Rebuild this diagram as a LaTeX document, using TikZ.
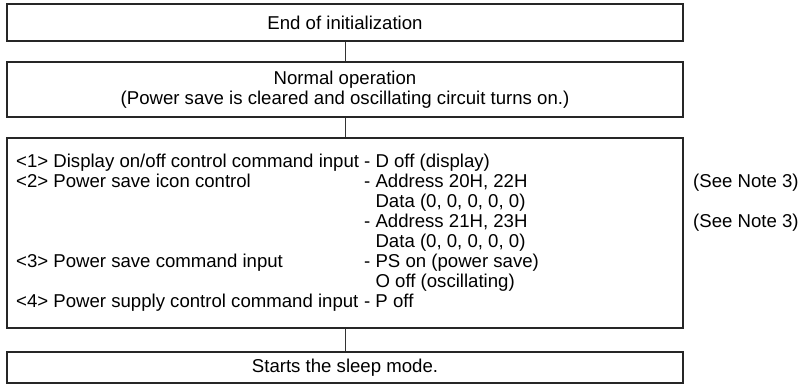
\documentclass[tikz,border=0pt]{standalone}
\usepackage{fontspec}
\setmainfont{Liberation Sans}
\begin{document}
\begin{tikzpicture}[x=1bp,y=-1bp,
  box/.style={draw=black!85, line width=1.3bp, minimum width=676bp, inner sep=0pt, align=center},
  conn/.style={draw=black!80, line width=0.7bp},
  txt/.style={anchor=base west, inner sep=0pt},
  every node/.style={font=\fontsize{18.6bp}{20bp}\selectfont}]
\useasboundingbox (0,0) rectangle (802,385);
\node[box, minimum height=37bp] (b1) at (345,22.5) {End of initialization};
\node[box, minimum height=55bp] (b2) at (345,89.5) {Normal operation\\(Power save is cleared and oscillating circuit turns on.)};
\node[box, minimum height=190bp] (b3) at (345,233) {};
\node[box, minimum height=31bp] (b4) at (345,367.5) {Starts the sleep mode.};
\draw[conn] (b1.south) -- (b2.north);
\draw[conn] (b2.south) -- (b3.north);
\draw[conn] (b3.south) -- (b4.north);
\newcommand{\lcol}[1]{\makebox[348bp][l]{#1}}
\node[txt] (l1) at (16,167) {\lcol{<1> Display on/off control command input}- D off (display)};
\node[txt] (l2) at (16,187) {\lcol{<2> Power save icon control}- Address 20H, 22H};
\node[txt] (l3) at (16,207) {\lcol{}\phantom{- }Data (0, 0, 0, 0, 0)};
\node[txt] (l4) at (16,227) {\lcol{}- Address 21H, 23H};
\node[txt] (l5) at (16,247) {\lcol{}\phantom{- }Data (0, 0, 0, 0, 0)};
\node[txt] (l6) at (16,267) {\lcol{<3> Power save command input}- PS on (power save)};
\node[txt] (l7) at (16,287) {\lcol{}\phantom{- }O off (oscillating)};
\node[txt] (l8) at (16,307) {\lcol{<4> Power supply control command input}- P off};
\node[txt] (n1) at (693,187) {(See Note 3)};
\node[txt] (n2) at (693,227) {(See Note 3)};
\end{tikzpicture}
\end{document}
